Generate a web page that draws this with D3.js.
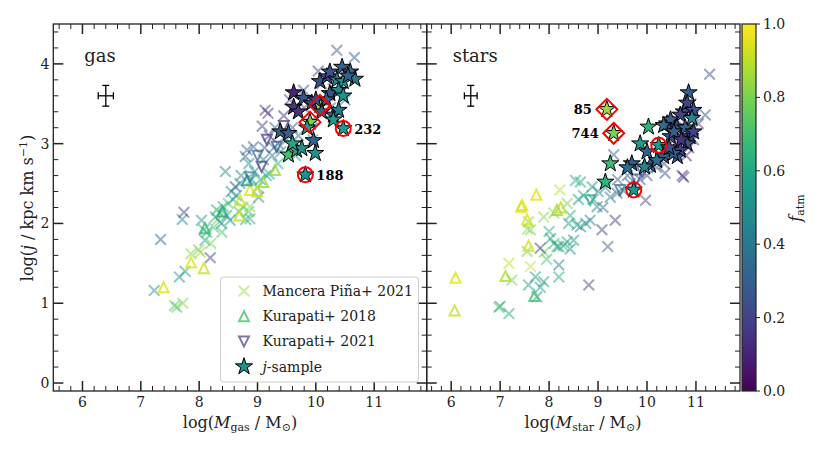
<!DOCTYPE html>
<html>
<head>
<meta charset="utf-8">
<script src="https://cdn.jsdelivr.net/npm/d3@7"></script>
<style>
  body { margin: 0; background: #fff; }
  text { font-family: "DejaVu Serif", serif; fill: #222; }
</style>
</head>
<body>
<div id="chart"></div>
<script>
// 1. data  -- each point is [log M, log j, f_atm]
var xTicks = [6, 7, 8, 9, 10, 11];
var yTicks = [0, 1, 2, 3, 4];
var cbTicks = [0, 0.2, 0.4, 0.6, 0.8, 1.0];
var legendLabels = ["Mancera Piña+ 2021", "Kurapati+ 2018", "Kurapati+ 2021", "-sample"];
var errBar = [6.4, 3.6, 0.13, 0.13]; // x, y, dx, dy

// gas panel
var mpGas = [
  [7.23,1.16,0.55],[7.34,1.80,0.30],[7.58,0.97,0.72],[7.62,0.95,0.75],[7.66,1.33,0.52],
  [7.72,1.00,0.82],[7.71,2.05,0.45],[7.74,2.14,0.18],[7.76,1.40,0.55],[7.86,1.62,0.82],
  [7.99,1.67,0.78],[8.02,1.64,0.86],[8.04,2.04,0.50],[8.08,1.92,0.62],[8.10,1.79,0.58],
  [8.13,1.89,0.62],[8.19,1.57,0.20],[8.20,1.75,0.80],[8.30,2.17,0.55],[8.32,2.05,0.75],
  [8.36,2.13,0.82],[8.38,2.00,0.45],[8.41,2.21,0.60],[8.39,1.89,0.70],[8.45,2.65,0.48],
  [8.47,2.10,0.55],[8.53,2.04,0.50],[8.50,2.25,0.72],[8.58,2.30,0.60],[8.62,2.46,0.20],
  [8.64,2.35,0.50],[8.70,2.50,0.55],[8.75,2.20,0.82],[8.79,2.84,0.30],[8.80,2.05,0.60],
  [8.82,2.92,0.35],[8.85,2.15,0.72],[8.87,2.06,0.65],[8.87,2.21,0.82],[8.90,2.55,0.50],
  [8.93,2.96,0.30],[8.95,2.65,0.45],[9.00,2.45,0.60],[9.02,2.33,0.45],[9.10,2.80,0.40],
  [9.15,2.60,0.55],[9.20,2.62,0.62],[9.25,2.85,0.35],[9.08,3.22,0.20],[9.13,3.42,0.15],
  [9.18,3.38,0.15],[9.20,3.10,0.20],[9.30,3.20,0.30],[9.35,3.00,0.40],[9.40,2.90,0.55],
  [9.35,2.75,0.62],[9.45,3.35,0.15],[9.55,3.55,0.20],[9.60,3.20,0.25],[9.70,3.10,0.35],
  [9.65,2.85,0.55],[9.80,3.45,0.20],[9.79,3.67,0.25],[9.95,3.30,0.30],[10.04,3.91,0.20],
  [10.10,3.75,0.25],[10.20,3.60,0.30],[10.30,3.80,0.30],[10.36,4.17,0.25],[10.50,3.55,0.35],
  [10.66,4.08,0.30],[10.25,3.45,0.40],[9.95,3.05,0.50],[9.50,3.05,0.45],[9.28,2.95,0.45],
  [8.55,2.40,0.50],[8.72,2.60,0.45],[8.85,2.75,0.50],[9.05,2.55,0.55],[9.12,2.95,0.30],
  [8.68,2.15,0.70],[8.25,1.95,0.70],[8.28,2.08,0.60]
];
var k18Gas = [
  [7.39,1.20,0.95],[7.86,1.51,0.95],[8.08,1.44,0.92],[8.10,1.94,0.68],[8.69,2.10,0.90],
  [8.70,2.29,0.92],[8.87,2.42,0.95],[8.99,2.40,0.92],[9.10,2.52,0.85],[9.30,2.67,0.85],
  [8.82,2.54,0.52],[8.40,2.15,0.60]
];
var k21Gas = [
  [9.07,2.71,0.18],[9.16,3.05,0.15],[9.33,2.96,0.20],[8.87,2.58,0.45],[9.45,3.22,0.15],[9.00,2.85,0.30]
];
var jGas = [
  [9.39,3.15,0.30],[9.53,3.13,0.30],[9.53,2.86,0.70],[9.67,2.92,0.60],[9.76,2.94,0.50],
  [9.96,3.04,0.30],[9.99,2.88,0.50],[9.82,2.61,0.50],[9.90,3.27,0.80],[10.07,3.48,0.85],
  [10.47,3.19,0.55],[9.62,3.64,0.10],[9.62,3.46,0.15],[9.79,3.57,0.25],[9.93,3.51,0.20],
  [9.70,3.40,0.15],[10.07,3.78,0.25],[10.19,3.84,0.20],[10.24,3.90,0.25],[10.45,3.96,0.30],
  [10.59,3.90,0.35],[10.67,3.81,0.40],[10.36,3.80,0.45],[10.47,3.78,0.50],[10.24,3.63,0.25],
  [10.39,3.67,0.45],[10.47,3.60,0.50],[10.30,3.36,0.30],[10.39,3.42,0.40],[10.30,3.30,0.55],
  [10.18,3.55,0.30],[10.10,3.40,0.30],[9.85,3.20,0.55],[9.60,3.00,0.60],[10.55,3.85,0.30],
  [10.00,3.55,0.20]
];
var circGas = [[9.82,2.61,"188"],[10.47,3.19,"232"]];
var diamGas = [[9.90,3.27,""],[10.07,3.48,""]];

// stars panel
var mpStar = [
  [11.28,3.87,0.25],[11.19,3.36,0.25],[11.05,3.25,0.20],[10.95,3.35,0.15],[10.90,3.50,0.20],
  [10.78,3.40,0.15],[10.60,3.30,0.15],[10.70,3.20,0.15],[10.90,3.20,0.10],[10.75,3.10,0.12],
  [10.55,3.05,0.10],[10.95,3.05,0.12],[10.65,2.95,0.10],[10.85,2.95,0.08],[10.80,2.85,0.10],
  [10.45,2.90,0.15],[10.35,2.75,0.20],[10.20,2.70,0.25],[10.75,2.58,0.15],[10.72,2.60,0.12],
  [10.37,2.63,0.25],[10.00,2.60,0.20],[9.86,2.55,0.25],[9.97,2.29,0.20],[9.66,2.50,0.30],
  [9.52,2.41,0.35],[9.39,2.38,0.35],[9.32,2.86,0.30],[9.25,2.33,0.40],[9.35,2.04,0.18],
  [9.08,1.92,0.18],[9.20,1.71,0.30],[9.10,2.20,0.40],[8.98,2.21,0.45],[8.88,2.46,0.55],
  [8.64,2.52,0.58],[8.54,2.54,0.62],[8.84,2.04,0.45],[8.75,2.00,0.50],[8.64,1.96,0.50],
  [8.70,2.35,0.60],[8.60,2.30,0.55],[8.50,1.79,0.50],[8.43,1.68,0.50],[8.29,1.72,0.65],
  [8.20,1.71,0.50],[8.10,1.75,0.65],[8.03,1.81,0.55],[7.90,1.64,0.80],[7.82,1.69,0.20],
  [7.62,1.46,0.92],[7.55,1.65,0.80],[7.56,1.93,0.82],[7.58,2.02,0.80],[7.89,2.08,0.82],
  [8.10,2.13,0.82],[8.37,2.25,0.80],[8.43,2.10,0.65],[8.22,2.42,0.88],[8.20,1.48,0.45],
  [8.20,1.33,0.60],[7.89,1.27,0.55],[7.72,1.33,0.55],[7.58,1.23,0.55],[7.75,1.08,0.55],
  [7.82,1.20,0.55],[7.24,1.29,0.80],[7.18,1.50,0.90],[6.97,0.95,0.75],[7.00,0.96,0.55],
  [7.18,0.87,0.60],[8.81,1.23,0.20],[7.62,1.92,0.80],[8.00,1.90,0.60],[8.40,2.00,0.55],
  [8.57,1.98,0.55],[8.16,1.71,0.62],[8.37,1.77,0.60],[7.95,1.55,0.70],
  [9.00,2.40,0.45],[9.15,2.45,0.40],[8.90,2.30,0.50],[9.40,2.55,0.30],[9.60,2.60,0.25]
];
var k18Star = [
  [6.09,1.32,0.95],[6.07,0.91,0.92],[7.74,2.36,0.95],[7.45,2.23,0.95],[7.43,2.21,0.95],
  [7.55,2.05,0.95],[7.58,1.72,0.93],[7.11,1.34,0.88],[7.70,1.09,0.70],[8.16,2.17,0.85],
  [8.24,2.20,0.90]
];
var k21Star = [
  [8.84,2.29,0.60],[9.45,2.42,0.30],[9.78,2.55,0.25],[9.90,2.65,0.20]
];
var jStar = [
  [9.18,3.43,0.85],[9.32,3.13,0.80],[10.03,3.21,0.65],[9.86,3.00,0.55],[10.24,2.98,0.55],
  [9.25,2.75,0.68],[9.15,2.52,0.65],[9.73,2.42,0.52],[9.69,2.75,0.30],[9.60,2.70,0.35],
  [10.07,2.73,0.30],[10.00,2.90,0.30],[9.95,2.71,0.45],[10.34,2.84,0.30],[10.41,3.25,0.30],
  [10.62,2.84,0.30],[10.85,3.64,0.30],[10.75,3.40,0.25],[10.82,3.51,0.20],[10.95,3.42,0.25],
  [10.92,3.32,0.45],[10.68,3.36,0.20],[10.48,3.30,0.30],[10.34,3.23,0.35],[10.61,3.21,0.25],
  [10.88,3.09,0.20],[10.82,3.00,0.25],[10.68,2.92,0.20],[10.48,3.09,0.25],[10.20,2.79,0.35],
  [10.54,2.88,0.30],[10.78,3.20,0.30],[10.95,3.15,0.20],[10.55,3.15,0.30],[10.45,2.95,0.25],
  [10.70,3.05,0.15]
];
var circStar = [[10.24,2.98,""],[9.73,2.42,""]];
var diamStar = [[9.18,3.43,"85"],[9.32,3.13,"744"]];

var width = 830;
var height = 453;
var plotTop = 24, plotBottom = 391;

// 2. svg
var svg = d3.select("#chart").append("svg").attr("width", width).attr("height", height);

var yScale = d3.scaleLinear().domain([-0.1, 4.5]).range([plotBottom, plotTop]);
var color = d3.scaleSequential(d3.interpolateViridis).domain([0, 1]);

var crossPath = "M-5.3,-5.3L5.3,5.3M-5.3,5.3L5.3,-5.3";
var triUp = "M0,-5L5,5L-5,5Z";
var triDown = "M0,5L5,-5L-5,-5Z";
var diamond = "M0,-10.5L10.5,0L0,10.5L-10.5,0Z";
var star = d3.symbol().type(d3.symbolStar).size(90)();

function range(a, b, s) {
  var out = [];
  for (var v = a; v <= b + 1e-9; v += s) out.push(Math.round(v * 10) / 10);
  return out;
}

// 3. one panel
function drawPanel(x0, x1, name, sets, showY) {
  var xScale = d3.scaleLinear().domain([5.5, 11.9]).range([x0, x1]);
  var g = svg.append("g");
  var xMinor = range(5.6, 11.8, 0.2);
  var yMinor = range(0, 4.4, 0.2);

  // ticks pointing inward on all four sides
  var tk = g.append("g").attr("stroke", "#222");
  xMinor.forEach(function(v) {
    var big = xTicks.indexOf(v) >= 0;
    var L = big ? 10 : 5;
    tk.append("line").attr("x1", xScale(v)).attr("x2", xScale(v))
      .attr("y1", plotBottom).attr("y2", plotBottom - L).attr("stroke-width", big ? 1.5 : 1);
    tk.append("line").attr("x1", xScale(v)).attr("x2", xScale(v))
      .attr("y1", plotTop).attr("y2", plotTop + L).attr("stroke-width", big ? 1.5 : 1);
  });
  yMinor.forEach(function(v) {
    var big = yTicks.indexOf(v) >= 0;
    var L = big ? 10 : 5;
    tk.append("line").attr("y1", yScale(v)).attr("y2", yScale(v))
      .attr("x1", x0).attr("x2", x0 + L).attr("stroke-width", big ? 1.5 : 1);
    tk.append("line").attr("y1", yScale(v)).attr("y2", yScale(v))
      .attr("x1", x1).attr("x2", x1 - L).attr("stroke-width", big ? 1.5 : 1);
  });

  g.selectAll(".xl").data(xTicks).enter().append("text")
    .attr("x", function(d) { return xScale(d); }).attr("y", 407)
    .attr("text-anchor", "middle").attr("font-size", "14px").text(function(d) { return d; });
  if (showY) {
    g.selectAll(".yl").data(yTicks).enter().append("text")
      .attr("x", x0 - 4).attr("y", function(d) { return yScale(d) + 5; })
      .attr("text-anchor", "end").attr("font-size", "14px").text(function(d) { return d; });
  }

  // marks
  function marks(data, path, op, sw) {
    g.append("g").selectAll("path").data(data).enter().append("path")
      .attr("d", path)
      .attr("transform", function(d) { return "translate(" + xScale(d[0]) + "," + yScale(d[1]) + ")"; })
      .attr("fill", "none")
      .attr("stroke", function(d) { return color(d[2]); })
      .attr("stroke-width", sw)
      .attr("stroke-opacity", op);
  }
  marks(sets.mp, crossPath, 0.5, 2);
  marks(sets.k18, triUp, 0.8, 2);
  marks(sets.k21, triDown, 0.7, 2);

  g.append("g").selectAll("path").data(sets.j).enter().append("path")
    .attr("d", star)
    .attr("transform", function(d) { return "translate(" + xScale(d[0]) + "," + yScale(d[1]) + ")"; })
    .attr("fill", function(d) { return color(d[2]); })
    .attr("stroke", "#000").attr("stroke-width", 1).attr("stroke-linejoin", "miter");

  // highlighted galaxies
  g.append("g").selectAll("circle").data(sets.circ).enter().append("circle")
    .attr("cx", function(d) { return xScale(d[0]); }).attr("cy", function(d) { return yScale(d[1]); })
    .attr("r", 7.5).attr("fill", "none").attr("stroke", "#f00").attr("stroke-width", 2);
  g.append("g").selectAll("path").data(sets.diam).enter().append("path")
    .attr("d", diamond)
    .attr("transform", function(d) { return "translate(" + xScale(d[0]) + "," + yScale(d[1]) + ")"; })
    .attr("fill", "none").attr("stroke", "#f00").attr("stroke-width", 2);

  var lab = sets.circ.concat(sets.diam).filter(function(d) { return d[2] !== ""; });
  g.selectAll(".lab").data(lab).enter().append("text")
    .attr("x", function(d) { return xScale(d[0]) + sets.labDx; })
    .attr("y", function(d) { return yScale(d[1]) + 5; })
    .attr("text-anchor", sets.labDx > 0 ? "start" : "end")
    .attr("font-size", "13px").attr("font-weight", "bold").style("fill", "#000")
    .text(function(d) { return d[2]; });

  // error bar
  var ex = xScale(errBar[0]), ey = yScale(errBar[1]);
  var exw = xScale(errBar[0] + errBar[2]) - ex, eyh = ey - yScale(errBar[1] + errBar[3]);
  var eb = g.append("g").attr("stroke", "#000").attr("stroke-width", 1.3);
  eb.append("line").attr("x1", ex - exw).attr("x2", ex + exw).attr("y1", ey).attr("y2", ey);
  eb.append("line").attr("x1", ex).attr("x2", ex).attr("y1", ey - eyh).attr("y2", ey + eyh);
  eb.append("line").attr("x1", ex - 3.5).attr("x2", ex + 3.5).attr("y1", ey - eyh).attr("y2", ey - eyh);
  eb.append("line").attr("x1", ex - 3.5).attr("x2", ex + 3.5).attr("y1", ey + eyh).attr("y2", ey + eyh);
  eb.append("line").attr("x1", ex - exw).attr("x2", ex - exw).attr("y1", ey - 3.5).attr("y2", ey + 3.5);
  eb.append("line").attr("x1", ex + exw).attr("x2", ex + exw).attr("y1", ey - 3.5).attr("y2", ey + 3.5);

  g.append("text").attr("x", xScale(6.03)).attr("y", 62).attr("font-size", "18px").text(name);

  // frame
  g.append("rect").attr("x", x0).attr("y", plotTop).attr("width", x1 - x0).attr("height", plotBottom - plotTop)
    .attr("fill", "none").attr("stroke", "#222").attr("stroke-width", 1.3);

  return xScale;
}

drawPanel(53.3, 426.7, "gas",
  { mp: mpGas, k18: k18Gas, k21: k21Gas, j: jGas, circ: circGas, diam: diamGas, labDx: 11 }, true);
drawPanel(426.7, 740, "stars",
  { mp: mpStar, k18: k18Star, k21: k21Star, j: jStar, circ: circStar, diam: diamStar, labDx: -15 }, false);

// 4. axis labels
var xl1 = svg.append("text").attr("x", 240).attr("y", 428).attr("text-anchor", "middle").attr("font-size", "16px");
xl1.append("tspan").text("log(");
xl1.append("tspan").attr("font-style", "italic").text("M");
xl1.append("tspan").attr("font-size", "11px").attr("dy", 3).text("gas");
xl1.append("tspan").attr("dy", -3).text(" / M");
xl1.append("tspan").attr("font-size", "11px").attr("dy", 3).text("⊙");
xl1.append("tspan").attr("dy", -3).text(")");

var xl2 = svg.append("text").attr("x", 583).attr("y", 428).attr("text-anchor", "middle").attr("font-size", "16px");
xl2.append("tspan").text("log(");
xl2.append("tspan").attr("font-style", "italic").text("M");
xl2.append("tspan").attr("font-size", "11px").attr("dy", 3).text("star");
xl2.append("tspan").attr("dy", -3).text(" / M");
xl2.append("tspan").attr("font-size", "11px").attr("dy", 3).text("⊙");
xl2.append("tspan").attr("dy", -3).text(")");

var yl = svg.append("text").attr("transform", "rotate(-90)").attr("x", -208).attr("y", 33)
  .attr("text-anchor", "middle").attr("font-size", "16px");
yl.append("tspan").text("log(");
yl.append("tspan").attr("font-style", "italic").text("j");
yl.append("tspan").text(" / kpc km s");
yl.append("tspan").attr("font-size", "11px").attr("dy", -6).text("−1");
yl.append("tspan").attr("dy", 6).text(")");

// 5. legend
var lg = svg.append("g").attr("transform", "translate(220.5,277)");
lg.append("rect").attr("width", 198).attr("height", 105).attr("rx", 3)
  .attr("fill", "#fff").attr("fill-opacity", 0.85).attr("stroke", "#ccc").attr("stroke-width", 1);
var lgShapes = [
  { d: crossPath, f: 0.85, op: 0.5 },
  { d: triUp, f: 0.72, op: 0.8 },
  { d: triDown, f: 0.18, op: 0.7 },
  { d: star, f: 0.5, op: 1 }
];
lgShapes.forEach(function(s, i) {
  var cy = 14 + i * 25.2;
  var p = lg.append("path").attr("d", s.d).attr("transform", "translate(23.5," + cy + ")");
  if (i < 3) {
    p.attr("fill", "none").attr("stroke", color(s.f)).attr("stroke-width", 2).attr("stroke-opacity", s.op);
  } else {
    p.attr("fill", color(s.f)).attr("stroke", "#000").attr("stroke-width", 1);
  }
  var t = lg.append("text").attr("x", 42).attr("y", cy + 5).attr("font-size", "14px");
  if (i === 3) t.append("tspan").attr("font-style", "italic").text("j");
  t.append("tspan").text(legendLabels[i]);
});

// 6. colorbar
var cbX = 742, cbW = 14;
var defs = svg.append("defs");
var grad = defs.append("linearGradient").attr("id", "vir").attr("x1", 0).attr("x2", 0).attr("y1", 1).attr("y2", 0);
d3.range(0, 1.0001, 0.05).forEach(function(t) {
  grad.append("stop").attr("offset", t).attr("stop-color", color(t));
});
var cbScale = d3.scaleLinear().domain([0, 1]).range([plotBottom, plotTop]);
svg.append("rect").attr("x", cbX).attr("y", plotTop).attr("width", cbW).attr("height", plotBottom - plotTop)
  .attr("fill", "url(#vir)").attr("stroke", "#222").attr("stroke-width", 1.2);
svg.selectAll(".cbt").data(cbTicks).enter().append("line")
  .attr("x1", cbX + cbW).attr("x2", cbX + cbW + 4)
  .attr("y1", function(d) { return cbScale(d); }).attr("y2", function(d) { return cbScale(d); })
  .attr("stroke", "#222").attr("stroke-width", 1);
svg.selectAll(".cbl").data(cbTicks).enter().append("text")
  .attr("x", cbX + cbW + 7).attr("y", function(d) { return cbScale(d) + 5; })
  .attr("font-size", "14px").text(function(d) { return d.toFixed(1); });

var fl = svg.append("text").attr("transform", "rotate(-90)").attr("x", -208).attr("y", 801)
  .attr("text-anchor", "middle").attr("font-size", "16px");
fl.append("tspan").attr("font-style", "italic").text("f");
fl.append("tspan").attr("font-size", "11px").attr("dy", 3).text("atm");
</script>
</body>
</html>
